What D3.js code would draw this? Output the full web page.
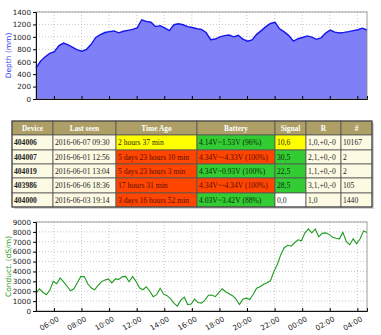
<!DOCTYPE html>
<html>
<head>
<meta charset="utf-8">
<script src="https://cdn.jsdelivr.net/npm/d3@7/dist/d3.min.js"></script>
<style>
  html, body { margin: 0; padding: 0; background: #fff; }
  svg { display: block; }
</style>
</head>
<body>
<svg id="page" width="381" height="335"></svg>
<script>
// ---- Sampling window (24 h) ----
const startTime = new Date(2016, 5, 6, 4, 42);
const endTime = new Date(2016, 5, 7, 4, 42);
const depthStepMinutes = 20;
const conductStepMinutes = 15;

// Water depth (mm), one reading every 20 minutes
const depthValues = [
  499, 610, 680, 735, 760, 860, 900, 870, 830, 790,
  770, 800, 880, 990, 1035, 1070, 1085, 1095, 1065, 1090,
  1105, 1120, 1145, 1275, 1250, 1235, 1165, 1180, 1145, 1100,
  1195, 1210, 1195, 1165, 1150, 1130, 1120, 1070, 955, 965,
  1000, 1020, 1030, 1000, 1025, 965, 930, 950, 1040, 1100,
  1165, 1215, 1235, 1130, 1080, 1020, 930, 970, 990, 1015,
  995, 960, 985, 1060, 1110, 1075, 1062, 1072, 1085, 1100,
  1115, 1140, 1110
];

// Conductivity (dS/m), one reading every 15 minutes
const conductValues = [
  1790, 2250, 1900, 1650, 2100, 3000, 2750, 3350, 2950, 2500,
  2050, 2250, 2850, 3500, 3480, 2750, 2350, 2150, 2600, 2950,
  3140, 3250, 2850, 3250, 3200, 3450, 3500, 2950, 3500, 3000,
  2350, 2150, 2450, 2000, 1450, 1650, 2300, 1700, 1550, 1250,
  800, 500, 1100, 1400, 650, 700, 1200, 850, 800, 1100,
  1600, 1620, 1450, 1850, 2250, 1950, 1750, 1550, 1200, 650,
  1200, 1300, 1150, 1700, 2300, 2450, 2700, 2850, 3050, 4000,
  4700, 5700, 6400, 6650, 6550, 6900, 7200, 7100, 7900, 8300,
  7900, 8300, 7500, 7850, 7900, 7750, 7450, 7350, 7300, 7950,
  7000, 6700, 7300, 6800, 7300, 8100, 7950
];

const depthTicks = [0, 200, 400, 600, 800, 1000, 1200, 1400];
const conductTicks = [0, 1000, 2000, 3000, 4000, 5000, 6000, 7000, 8000, 9000];

// ---- Device status table ----
const columns = ["Device", "Last seen", "Time Ago", "Battery", "Signal", "R", "#"];
const devices = ["404006", "404007", "404019", "403986", "404000"];
const lastSeen = ["2016-06-07 09:30", "2016-06-01 12:56", "2016-06-01 13:04", "2016-06-06 18:36", "2016-06-03 19:14"];
const timeAgo = ["2 hours 37 min", "5 days 23 hours 10 min", "5 days 23 hours 3 min", "17 hours 31 min", "3 days 16 hours 52 min"];
const timeAgoStatus = ["warn", "bad", "bad", "bad", "bad"];
const battery = ["4.14V~1.53V (96%)", "4.34V~-4.33V (100%)", "4.34V~0.93V (100%)", "4.34V~-4.34V (100%)", "4.03V~3.42V (88%)"];
const batteryStatus = ["good", "bad", "good", "bad", "good"];
const signal = ["10,6", "30,5", "22,5", "28,5", "0,0"];
const signalStatus = ["warn", "good", "good", "good", "none"];
const resets = ["1,0,+0,-0", "2,1,+0,-0", "1,1,+0,-0", "3,1,+0,-0", "1,0"];
const counts = ["10167", "2", "2", "105", "1440"];

const statusFill = { good: "#33cc33", warn: "#ffff00", bad: "#ff4500", none: "#ffffff", plain: "#fdfae4" };
const statusText = { good: "#0a2a0a", warn: "#2a2a00", bad: "#5a1000", none: "#222", plain: "#222" };

const svg = d3.select("#page");
const tickFont = "'DejaVu Sans', sans-serif";

const x = d3.scaleTime().domain([startTime, endTime]);
const hourTicks = d3.timeHour.every(2).range(new Date(2016, 5, 6, 6, 0), endTime);

function series(values, stepMinutes) {
  return values.map((v, i) => ({ t: d3.timeMinute.offset(startTime, i * stepMinutes), v }));
}

function drawPanel(opts) {
  const { left, right, top, bottom, yMax, ticks, label, labelColor } = opts;
  const xs = x.copy().range([left, right]);
  const ys = d3.scaleLinear().domain([0, yMax]).range([bottom, top]);
  const g = svg.append("g");

  // dotted grid
  g.append("g").selectAll("line.h").data(ticks).join("line")
    .attr("x1", left).attr("x2", right)
    .attr("y1", d => ys(d)).attr("y2", d => ys(d))
    .attr("stroke", "#b0b0b0").attr("stroke-width", 0.7).attr("stroke-dasharray", "1,2");
  g.append("g").selectAll("line.v").data(hourTicks).join("line")
    .attr("x1", d => xs(d)).attr("x2", d => xs(d))
    .attr("y1", top).attr("y2", bottom)
    .attr("stroke", "#b0b0b0").attr("stroke-width", 0.7).attr("stroke-dasharray", "1,2");

  const plot = g.append("g");

  // frame
  g.append("rect").attr("x", left).attr("y", top)
    .attr("width", right - left).attr("height", bottom - top)
    .attr("fill", "none").attr("stroke", "#888").attr("stroke-width", 0.8);

  // y axis
  const ya = g.append("g").attr("transform", `translate(${left},0)`)
    .call(d3.axisLeft(ys).tickValues(ticks).tickSize(3).tickPadding(2).tickFormat(d3.format("d")));
  ya.select(".domain").attr("stroke", "#111");
  ya.selectAll("text").attr("font-family", tickFont).attr("font-size", 7.2).attr("fill", "#222");

  // x axis (ticks inside)
  const xa = g.append("g").attr("transform", `translate(0,${bottom})`)
    .call(d3.axisBottom(xs).tickValues(hourTicks).tickSize(-3).tickFormat(""));
  xa.select(".domain").attr("stroke", "#111");

  g.append("text")
    .attr("transform", `translate(11,${(top + bottom) / 2}) rotate(-90)`)
    .attr("text-anchor", "middle")
    .attr("font-family", tickFont).attr("font-size", 7.5)
    .attr("fill", labelColor).text(label);

  return { plot, xs, ys, g };
}

// ---- Depth panel ----
const depth = series(depthValues, depthStepMinutes);
const dp = drawPanel({ left: 36, right: 367, top: 12, bottom: 99, yMax: 1400,
  ticks: depthTicks, label: "Depth (mm)", labelColor: "#3a3af0" });
dp.plot.append("path").datum(depth)
  .attr("d", d3.area().x(d => dp.xs(d.t)).y0(dp.ys(0)).y1(d => dp.ys(d.v)))
  .attr("fill", "#7f7ff8");
dp.plot.append("path").datum(depth)
  .attr("d", d3.line().x(d => dp.xs(d.t)).y(d => dp.ys(d.v)))
  .attr("fill", "none").attr("stroke", "#1515ee").attr("stroke-width", 1.4);

// ---- Conductivity panel ----
const conduct = series(conductValues, conductStepMinutes);
const cp = drawPanel({ left: 36, right: 367, top: 222, bottom: 311, yMax: 9000,
  ticks: conductTicks, label: "Conduct. (dS/m)", labelColor: "#2aa02a" });
cp.plot.append("path").datum(conduct)
  .attr("d", d3.line().x(d => cp.xs(d.t)).y(d => cp.ys(d.v)))
  .attr("fill", "none").attr("stroke", "#1f9a1f").attr("stroke-width", 1.1);

cp.g.append("g").selectAll("text").data(hourTicks).join("text")
  .attr("transform", d => `translate(${cp.xs(d) + 3},${316}) rotate(-30)`)
  .attr("text-anchor", "end").attr("dy", "0.7em")
  .attr("font-family", tickFont).attr("font-size", 7.2).attr("fill", "#222")
  .text(d3.timeFormat("%H:%M"));

// ---- Table ----
const colEdges = [12, 53, 116, 197, 275, 306, 341, 372];
const rowEdges = [121, 135, 150, 164, 178, 193, 207];
const serif = "'Liberation Serif', 'Times New Roman', serif";

const rows = devices.map((d, i) => [
  { text: d, status: "plain", bold: true },
  { text: lastSeen[i], status: "plain" },
  { text: timeAgo[i], status: timeAgoStatus[i] },
  { text: battery[i], status: batteryStatus[i] },
  { text: signal[i], status: signalStatus[i] },
  { text: resets[i], status: "plain" },
  { text: counts[i], status: "plain" }
]);

const tbl = svg.append("g");
// drop shadow
tbl.append("rect").attr("x", colEdges[0] + 2).attr("y", rowEdges[0] + 2)
  .attr("width", colEdges[7] - colEdges[0]).attr("height", rowEdges[6] - rowEdges[0])
  .attr("fill", "#d4d4d4");

// header
tbl.append("g").selectAll("g").data(columns).join("g").each(function (c, j) {
  const cell = d3.select(this);
  cell.append("rect").attr("x", colEdges[j]).attr("y", rowEdges[0])
    .attr("width", colEdges[j + 1] - colEdges[j]).attr("height", rowEdges[1] - rowEdges[0])
    .attr("fill", "#ae9f66").attr("stroke", "#555").attr("stroke-width", 0.8);
  cell.append("text").attr("x", (colEdges[j] + colEdges[j + 1]) / 2).attr("y", rowEdges[0] + 9.5)
    .attr("text-anchor", "middle").attr("font-family", serif).attr("font-weight", "bold")
    .attr("font-size", 7.4).attr("fill", "#fff").text(c);
});

// body
tbl.append("g").selectAll("g").data(rows).join("g").each(function (row, i) {
  const r = d3.select(this);
  row.forEach((c, j) => {
    r.append("rect").attr("x", colEdges[j]).attr("y", rowEdges[i + 1])
      .attr("width", colEdges[j + 1] - colEdges[j]).attr("height", rowEdges[i + 2] - rowEdges[i + 1])
      .attr("fill", statusFill[c.status]).attr("stroke", "#555").attr("stroke-width", 0.8);
    r.append("text").attr("x", colEdges[j] + 2).attr("y", rowEdges[i + 1] + 9.8)
      .attr("font-family", serif).attr("font-size", 7.6)
      .attr("font-weight", c.bold ? "bold" : "normal")
      .attr("fill", statusText[c.status]).text(c.text);
  });
});
tbl.append("rect").attr("x", colEdges[0]).attr("y", rowEdges[0])
  .attr("width", colEdges[7] - colEdges[0]).attr("height", rowEdges[6] - rowEdges[0])
  .attr("fill", "none").attr("stroke", "#444").attr("stroke-width", 1);
</script>
</body>
</html>
